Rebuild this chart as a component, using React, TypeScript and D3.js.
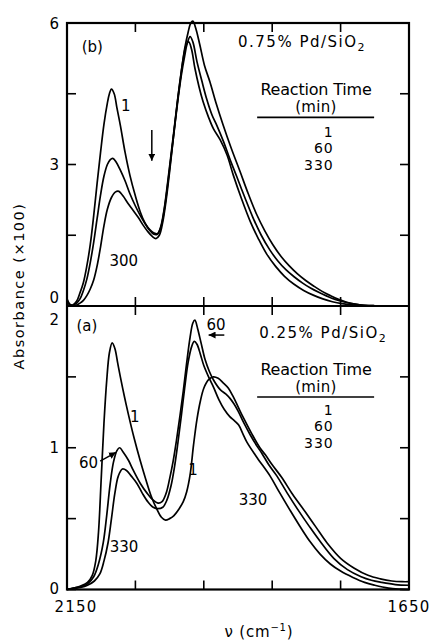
import React, { useEffect, useRef } from "react"
import * as d3 from "d3"

// [wavenumber cm-1, absorbance x100]
// (b) 0.75% Pd/SiO2
const top1 = [[2150,0.15],[2146,0.04],[2142,0.02],[2136,0.1],[2131,0.28],[2126,0.5],[2121,0.85],[2116,1.3],[2111,1.91],[2106,2.6],[2101,3.25],[2096,3.85],[2091,4.3],[2088,4.5],[2085,4.6],[2081,4.5],[2077,4.2],[2072,3.83],[2065,3.25],[2058,2.77],[2050,2.33],[2043,2.0],[2036,1.76],[2029,1.6],[2023,1.52],[2018,1.52],[2013,1.68],[2008,2.05],[2003,2.6],[1998,3.2],[1993,3.8],[1988,4.4],[1983,4.95],[1978,5.45],[1973,5.8],[1969,6.0],[1966,6.04],[1962,5.9],[1956,5.55],[1949,5.1],[1941,4.75],[1932,4.3],[1922,3.85],[1910,3.35],[1897,2.85],[1885,2.38],[1873,1.95],[1861,1.6],[1849,1.3],[1837,1.05],[1825,0.85],[1813,0.68],[1801,0.54],[1789,0.42],[1777,0.31],[1765,0.22],[1753,0.14],[1741,0.08],[1729,0.04],[1715,0.015],[1700,0.005],[1680,0],[1650,0]]
const top60 = [[2150,0.12],[2146,0.03],[2142,0.01],[2136,0.06],[2131,0.15],[2126,0.33],[2121,0.57],[2116,0.92],[2111,1.35],[2106,1.85],[2101,2.35],[2096,2.75],[2091,3.0],[2087,3.1],[2083,3.13],[2078,3.05],[2072,2.88],[2065,2.65],[2058,2.38],[2050,2.12],[2043,1.92],[2036,1.75],[2029,1.62],[2023,1.55],[2018,1.53],[2013,1.66],[2008,2.02],[2003,2.55],[1998,3.15],[1993,3.75],[1988,4.35],[1983,4.88],[1978,5.3],[1974,5.58],[1970,5.71],[1966,5.6],[1960,5.18],[1953,4.78],[1946,4.4],[1938,4.05],[1931,3.83],[1921,3.48],[1912,3.12],[1902,2.75],[1890,2.3],[1878,1.87],[1866,1.5],[1854,1.2],[1842,0.96],[1830,0.77],[1818,0.62],[1806,0.49],[1794,0.38],[1782,0.29],[1770,0.21],[1758,0.14],[1746,0.09],[1734,0.05],[1720,0.02],[1700,0.005],[1680,0],[1650,0]]
const top330 = [[2150,0.1],[2146,0.02],[2142,0],[2136,0.02],[2131,0.06],[2126,0.12],[2121,0.22],[2116,0.36],[2111,0.55],[2106,0.85],[2101,1.25],[2096,1.7],[2091,2.05],[2085,2.3],[2079,2.42],[2074,2.43],[2068,2.33],[2061,2.18],[2054,2.04],[2046,1.88],[2039,1.72],[2032,1.58],[2025,1.47],[2020,1.43],[2015,1.5],[2010,1.78],[2005,2.25],[2000,2.85],[1995,3.5],[1990,4.15],[1985,4.75],[1980,5.25],[1976,5.52],[1972,5.6],[1968,5.45],[1963,5.04],[1957,4.65],[1951,4.33],[1943,4.0],[1936,3.76],[1926,3.52],[1916,3.2],[1907,2.78],[1895,2.28],[1882,1.79],[1870,1.42],[1858,1.1],[1845,0.84],[1832,0.63],[1818,0.46],[1804,0.33],[1790,0.23],[1776,0.15],[1762,0.09],[1748,0.05],[1730,0.02],[1710,0.005],[1690,0],[1650,0]]

// (a) 0.25% Pd/SiO2
const bot1 = [[2150,0],[2140,0.01],[2130,0.025],[2120,0.05],[2113,0.1],[2108,0.2],[2104,0.4],[2100,0.78],[2096,1.17],[2092,1.47],[2088,1.67],[2084,1.74],[2080,1.7],[2076,1.6],[2072,1.5],[2066,1.36],[2060,1.23],[2052,1.07],[2043,0.91],[2035,0.78],[2027,0.66],[2019,0.57],[2012,0.51],[2006,0.49],[2000,0.5],[1994,0.52],[1986,0.57],[1980,0.62],[1975,0.69],[1970,0.81],[1965,1.02],[1960,1.2],[1955,1.33],[1950,1.42],[1943,1.48],[1936,1.5],[1929,1.49],[1922,1.46],[1914,1.42],[1907,1.36],[1900,1.29],[1892,1.21],[1880,1.1],[1868,1.0],[1860,0.95],[1850,0.88],[1836,0.79],[1820,0.67],[1802,0.55],[1786,0.44],[1770,0.33],[1750,0.22],[1730,0.15],[1710,0.1],[1692,0.075],[1675,0.06],[1660,0.055],[1650,0.055]]
const bot60 = [[2150,0],[2140,0.01],[2130,0.02],[2120,0.04],[2111,0.09],[2104,0.18],[2097,0.33],[2092,0.52],[2087,0.74],[2082,0.9],[2077,0.98],[2073,1.0],[2068,0.97],[2060,0.91],[2053,0.84],[2043,0.75],[2033,0.68],[2024,0.63],[2017,0.61],[2011,0.62],[2005,0.68],[2000,0.78],[1995,0.9],[1990,1.05],[1985,1.22],[1980,1.4],[1975,1.6],[1970,1.78],[1966,1.88],[1963,1.9],[1959,1.84],[1954,1.74],[1948,1.62],[1942,1.54],[1936,1.48],[1926,1.41],[1918,1.38],[1912,1.35],[1906,1.31],[1900,1.26],[1892,1.18],[1882,1.09],[1872,1.01],[1865,0.96],[1855,0.88],[1843,0.8],[1828,0.68],[1812,0.56],[1795,0.44],[1780,0.34],[1760,0.22],[1740,0.14],[1720,0.09],[1705,0.065],[1690,0.05],[1670,0.035],[1650,0.03]]
const bot330 = [[2150,0],[2140,0.008],[2130,0.015],[2120,0.03],[2110,0.06],[2102,0.11],[2096,0.2],[2090,0.33],[2085,0.5],[2080,0.68],[2075,0.8],[2069,0.85],[2063,0.84],[2056,0.8],[2048,0.75],[2040,0.68],[2032,0.62],[2024,0.58],[2017,0.57],[2010,0.58],[2004,0.63],[1998,0.73],[1993,0.86],[1988,1.03],[1983,1.22],[1978,1.42],[1973,1.6],[1968,1.71],[1964,1.75],[1960,1.73],[1955,1.66],[1950,1.58],[1943,1.5],[1936,1.43],[1928,1.34],[1920,1.27],[1912,1.22],[1905,1.19],[1899,1.16],[1893,1.1],[1887,1.04],[1872,0.93],[1853,0.8],[1840,0.69],[1824,0.56],[1810,0.45],[1795,0.34],[1780,0.25],[1765,0.18],[1750,0.13],[1732,0.085],[1715,0.05],[1700,0.03],[1680,0.01],[1665,0.003],[1650,0]]

const xTicks = [2050, 1950, 1850, 1750]
const xLabels = [2150, 1650]
const topYTicks = [0, 1.5, 3, 4.5, 6]
const topYLabels = [0, 3, 6]
const botYTicks = [0, 0.5, 1, 1.5, 2]
const botYLabels = [0, 1, 2]
const legendTimes = ["1", "60", "330"]

const FONT = "DejaVu Sans"

export default function App() {
  const ref = useRef(null)

  useEffect(() => {
    const svg = d3.select(ref.current)
    svg.selectAll("*").remove()

    const left = 67, right = 409, top = 23, mid = 306, bottom = 589.5

    const x = d3.scaleLinear().domain([2150, 1650]).range([left, right])
    const yTop = d3.scaleLinear().domain([0, 6]).range([mid, top])
    const yBot = d3.scaleLinear().domain([0, 2]).range([bottom, mid])

    svg.append("defs").append("marker")
      .attr("id", "arr")
      .attr("viewBox", "0 0 10 10")
      .attr("refX", 10).attr("refY", 5)
      .attr("markerWidth", 7).attr("markerHeight", 7)
      .attr("markerUnits", "userSpaceOnUse")
      .attr("orient", "auto")
      .append("path").attr("d", "M0,0 L10,5 L0,10 z").attr("fill", "#000")

    // curves
    const drawCurves = (sets, y) => {
      const line = d3.line()
        .x(d => x(d[0]))
        .y(d => y(d[1]))
        .curve(d3.curveCatmullRom.alpha(0.5))
      sets.forEach(s => {
        svg.append("path")
          .attr("d", line(s))
          .attr("fill", "none")
          .attr("stroke", "#000")
          .attr("stroke-width", 1.7)
          .attr("stroke-linejoin", "round")
      })
    }
    drawCurves([top1, top60, top330], yTop)
    drawCurves([bot1, bot60, bot330], yBot)

    // inner ticks
    const tickG = svg.append("g").attr("stroke", "#000").attr("stroke-width", 1.6)
    const tk = 9
    xTicks.forEach(t => {
      const xx = x(t)
      tickG.append("line").attr("x1", xx).attr("x2", xx).attr("y1", top).attr("y2", top + tk)
      tickG.append("line").attr("x1", xx).attr("x2", xx).attr("y1", mid - tk).attr("y2", mid + tk)
      tickG.append("line").attr("x1", xx).attr("x2", xx).attr("y1", bottom).attr("y2", bottom - tk)
    })
    const yTickSide = (ticks, y) => {
      ticks.forEach(t => {
        tickG.append("line").attr("x1", left).attr("x2", left + tk).attr("y1", y(t)).attr("y2", y(t))
        tickG.append("line").attr("x1", right).attr("x2", right - tk).attr("y1", y(t)).attr("y2", y(t))
      })
    }
    yTickSide(topYTicks, yTop)
    yTickSide(botYTicks, yBot)

    // frame
    svg.append("rect")
      .attr("x", left).attr("y", top)
      .attr("width", right - left).attr("height", bottom - top)
      .attr("fill", "none").attr("stroke", "#000").attr("stroke-width", 2.2)
    svg.append("line")
      .attr("x1", left).attr("x2", right).attr("y1", mid).attr("y2", mid)
      .attr("stroke", "#000").attr("stroke-width", 2.2)

    const txt = (s, px, py, anchor = "middle", size = 15, ls = 0) =>
      svg.append("text")
        .attr("x", px).attr("y", py)
        .attr("text-anchor", anchor)
        .attr("font-family", FONT)
        .attr("font-size", size)
        .attr("letter-spacing", ls)
        .attr("fill", "#000")
        .text(s)

    // y tick labels
    topYLabels.forEach(v => {
      txt(String(v), left - 8, yTop(v) + 5.5 + (v === 0 ? -8.5 : 0), "end")
    })
    botYLabels.forEach(v => {
      txt(String(v), left - 8, yBot(v) + 5.5 + (v === 2 ? 13 : 0) + (v === 0 ? -1.5 : 0), "end")
    })

    // x tick labels
    xLabels.forEach(v => {
      txt(String(v), x(v) + (v === 2150 ? 9 : 0), 612, "middle", 15, 1.2)
    })

    // axis titles
    const xt = txt("\u03bd  (cm", 259, 637, "middle", 15, 0.8)
    xt.append("tspan").attr("dy", -6).attr("font-size", 10).text("\u22121")
    xt.append("tspan").attr("dy", 6).text(")")
    txt("Absorbance  (\u00d7100)", 0, 0, "middle", 14.5, 1.5)
      .attr("transform", "translate(24,286) rotate(-90)")

    // panel (b) annotations
    txt("(b)", x(2113), yTop(5.38))
    txt("1", x(2064), yTop(4.13))
    txt("300", x(2067), yTop(0.85))
    svg.append("line")
      .attr("x1", x(2026)).attr("x2", x(2026))
      .attr("y1", yTop(3.73)).attr("y2", yTop(3.08))
      .attr("stroke", "#000").attr("stroke-width", 1.5)
      .attr("marker-end", "url(#arr)")

    const pdTop = txt("0.75% Pd/SiO", x(1900), yTop(5.49), "start", 15, 1.5)
    pdTop.append("tspan").attr("dy", 4).attr("font-size", 11).text("2")
    const pdBot = txt("0.25% Pd/SiO", x(1869), yBot(1.774), "start", 15, 1.5)
    pdBot.append("tspan").attr("dy", 4).attr("font-size", 11).text("2")

    const legend = (y, vTitle, vMin, vLine, vItems) => {
      txt("Reaction Time", x(1786), y(vTitle), "middle", 16, -0.2)
      txt("(min)", x(1786), y(vMin), "middle", 15, 0.3)
      svg.append("line")
        .attr("x1", x(1872)).attr("x2", x(1701))
        .attr("y1", y(vLine)).attr("y2", y(vLine))
        .attr("stroke", "#000").attr("stroke-width", 1.6)
      legendTimes.forEach((s, i) => {
        txt(s, x(1760), y(vItems[i]), "end", 14, 1)
      })
    }
    legend(yTop, 4.47, 4.11, 4.0, [3.58, 3.24, 2.88])
    legend(yBot, 1.513, 1.393, 1.358, [1.231, 1.118, 0.998])

    // panel (a) annotations
    txt("(a)", x(2121), yBot(1.823))
    txt("60", x(1932), yBot(1.83))
    svg.append("line")
      .attr("x1", x(1920)).attr("x2", x(1943))
      .attr("y1", yBot(1.795)).attr("y2", yBot(1.795))
      .attr("stroke", "#000").attr("stroke-width", 1.5)
      .attr("marker-end", "url(#arr)")
    txt("1", x(2051), yBot(1.182))
    txt("60", x(2104.5), yBot(0.857), "end")
    svg.append("line")
      .attr("x1", x(2101.5)).attr("x2", x(2078.4))
      .attr("y1", yBot(0.905)).attr("y2", yBot(0.968))
      .attr("stroke", "#000").attr("stroke-width", 1.5)
      .attr("marker-end", "url(#arr)")
    txt("330", x(2066.7), yBot(0.265))
    txt("1", x(1965.8), yBot(0.808))
    txt("330", x(1878), yBot(0.596))
  }, [])

  return (
    <svg
      ref={ref}
      width={434}
      height={642}
      style={{ position: "absolute", left: 0, top: 0, background: "#fff" }}
    />
  )
}
